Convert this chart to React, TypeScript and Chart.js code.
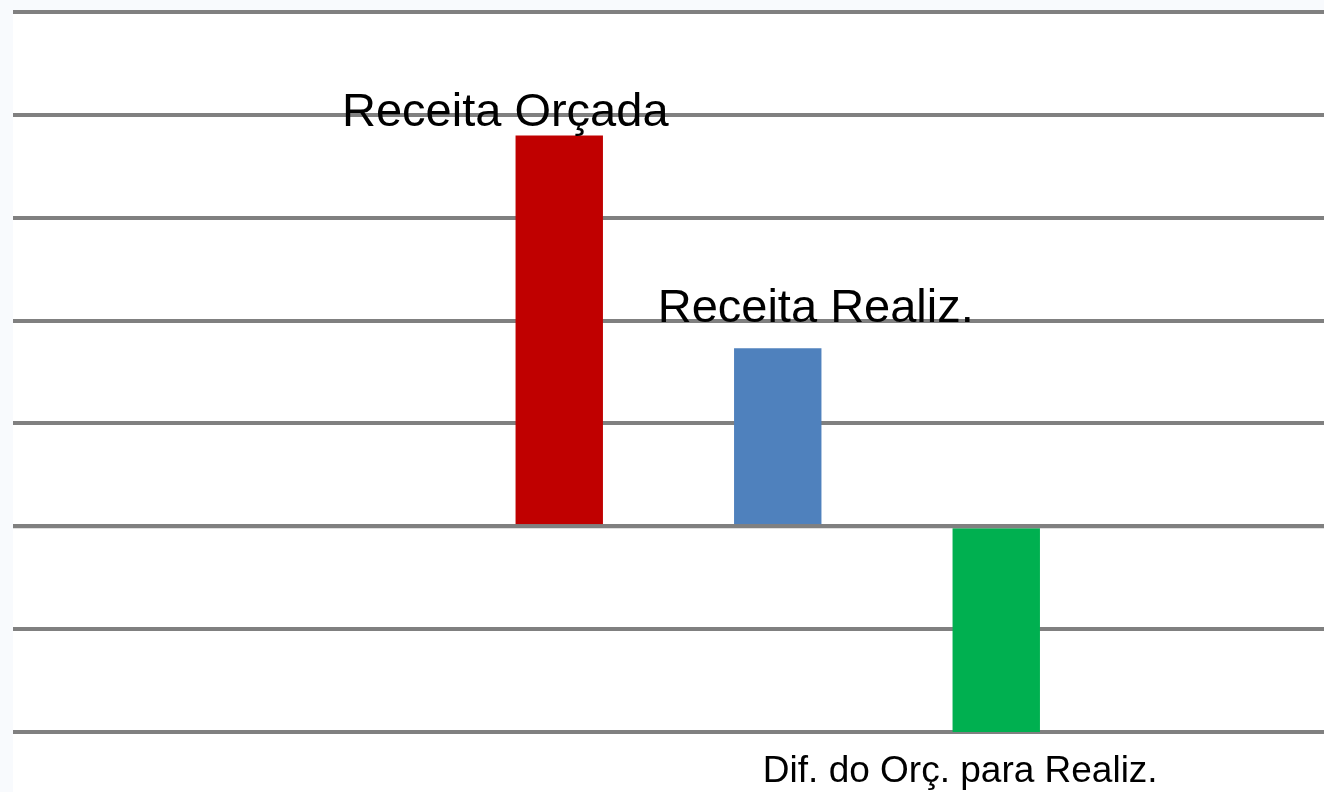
import React, { useEffect, useRef } from "react";
import { Chart, registerables } from "chart.js";

Chart.register(...registerables);

const categories = ["", "", "Receita Orçada", "Receita Realiz.", "Dif. do Orç. para Realiz.", ""];
const values = [null, null, 3.8, 1.73, -2.0, null];
const barColors = ["#C00000", "#C00000", "#C00000", "#4F81BD", "#00B050", "#00B050"];
const yMin = -2;
const yMax = 5;
const yStep = 1;

// label offsets (style): dx from bar centre, dy baseline offset from bar end
const labelOffsets: Record<number, { dx: number; dy: number; size: number }> = {
  2: { dx: -54, dy: -9, size: 47 },
  3: { dx: 38, dy: -26, size: 47 },
  4: { dx: -36, dy: 50, size: 37 },
};

const GRID_COLOR = "#808080";
const GRID_WIDTH = 4;

const bgPlugin = {
  id: "bgPlugin",
  beforeDraw(chart: any) {
    const { ctx, chartArea } = chart;
    ctx.save();
    ctx.fillStyle = "#ffffff";
    ctx.fillRect(chartArea.left, chartArea.top, chart.width - chartArea.left, chart.height - chartArea.top);
    ctx.restore();
  },
};

const zeroLinePlugin = {
  id: "zeroLinePlugin",
  afterDatasetsDraw(chart: any) {
    const { ctx, chartArea, scales } = chart;
    const y = scales.y.getPixelForValue(0);
    ctx.save();
    ctx.strokeStyle = GRID_COLOR;
    ctx.lineWidth = GRID_WIDTH;
    ctx.beginPath();
    ctx.moveTo(chartArea.left, y);
    ctx.lineTo(chartArea.right, y);
    ctx.stroke();
    ctx.restore();
  },
};

const labelPlugin = {
  id: "labelPlugin",
  afterDraw(chart: any) {
    const { ctx } = chart;
    const meta = chart.getDatasetMeta(0);
    ctx.save();
    ctx.fillStyle = "#000000";
    ctx.textAlign = "center";
    ctx.textBaseline = "alphabetic";
    meta.data.forEach((bar: any, i: number) => {
      const v = values[i];
      const off = labelOffsets[i];
      if (v === null || !off) return;
      ctx.font = `${off.size}px "Liberation Sans", Arial, sans-serif`;
      ctx.fillText(categories[i], bar.x + off.dx, bar.y + off.dy);
    });
    ctx.restore();
  },
};

export default function App() {
  const ref = useRef<HTMLCanvasElement | null>(null);
  useEffect(() => {
    if (!ref.current) return;
    const chart = new Chart(ref.current, {
      type: "bar",
      data: {
        labels: categories,
        datasets: [
          {
            data: values as any,
            backgroundColor: barColors,
            borderWidth: 0,
            barPercentage: 0.4,
            categoryPercentage: 1,
          },
        ],
      },
      options: {
        responsive: false,
        animation: false,
        layout: { padding: { left: 13, top: 12, right: 0, bottom: 60 } },
        plugins: {
          legend: { display: false },
          tooltip: { enabled: false },
          title: { display: false },
        },
        scales: {
          x: { display: false },
          y: {
            display: true,
            min: yMin,
            max: yMax,
            ticks: { display: false, stepSize: yStep },
            border: { display: false },
            grid: { color: GRID_COLOR, lineWidth: GRID_WIDTH, drawTicks: false },
          },
        },
      },
      plugins: [bgPlugin, zeroLinePlugin, labelPlugin],
    });
    return () => chart.destroy();
  }, []);
  return (
    <div style={{ position: "fixed", left: 0, top: 0, width: 1324, height: 792, background: "#f8fafd" }}>
      <canvas ref={ref} width={1324} height={792} />
    </div>
  );
}
